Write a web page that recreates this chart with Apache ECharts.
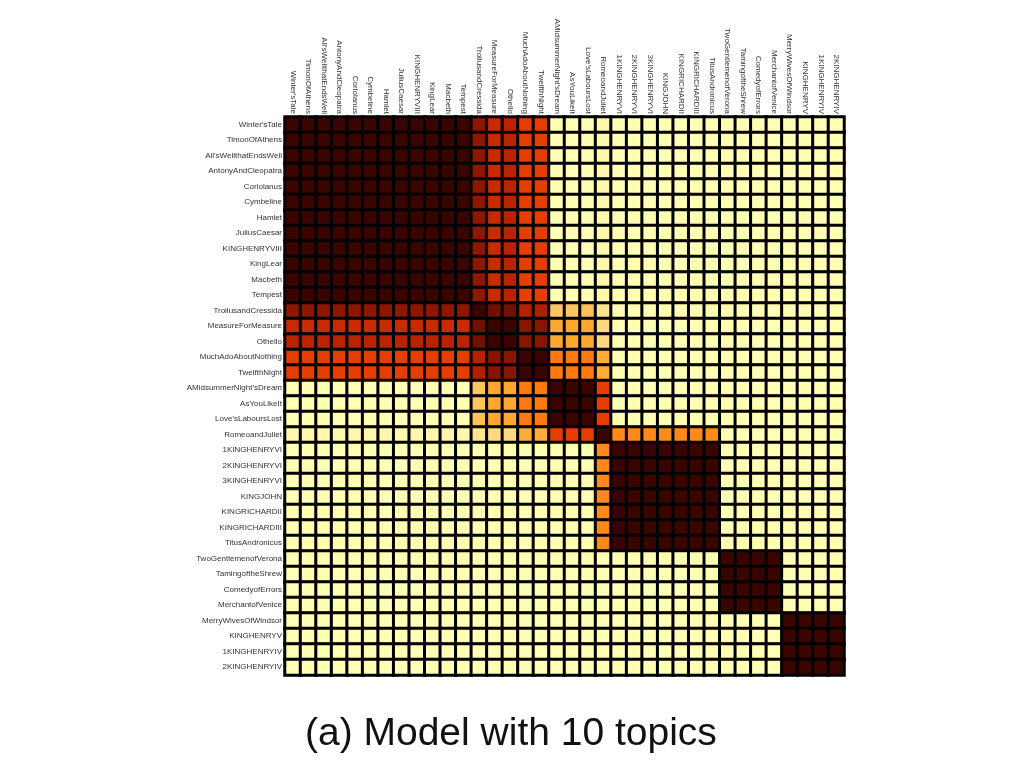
<!DOCTYPE html>
<html>
<head>
    <meta charset="utf-8">
    <title>Model with 10 topics</title>
    <script type="text/javascript" src="https://cdn.jsdelivr.net/npm/echarts@6/dist/echarts.min.js"></script>
    <style>
        html, body { margin: 0; padding: 0; background: #fff; }
    </style>
</head>
<body>
<div id="heat" style="width:1024px;height:768px;"></div>

<script type="text/javascript">
    // plays, same order on both axes
    var plays = ["Winter'sTale", "TimonOfAthens", "All'sWellthatEndsWell", "AntonyAndCleopatra", "Coriolanus",
        "Cymbeline", "Hamlet", "JuliusCaesar", "KINGHENRYVIII", "KingLear", "Macbeth", "Tempest",
        "TroilusandCressida", "MeasureForMeasure", "Othello", "MuchAdoAboutNothing", "TwelfthNight",
        "AMidsummerNight'sDream", "AsYouLikeIt", "Love'sLaboursLost", "RomeoandJuliet",
        "1KINGHENRYVI", "2KINGHENRYVI", "3KINGHENRYVI", "KINGJOHN", "KINGRICHARDII", "KINGRICHARDIII",
        "TitusAndronicus", "TwoGentlemenofVerona", "TamingoftheShrew", "ComedyofErrors",
        "MerchantofVenice", "MerryWivesOfWindsor", "KINGHENRYV", "1KINGHENRYIV", "2KINGHENRYIV"];

    // similarity rows (0 = pale, 1 = dark)
    var rowA =       [1,1,1,1,1,1,1,1,1,1,1,1, .84,.66,.70,.57,.57, 0,0,0, .03, 0,0,0,0,0,0,0, 0,0,0,0, 0,0,0,0];
    var rowTroilus = [.84,.84,.84,.84,.84,.84,.84,.84,.84,.84,.84,.84, 1,.9,.9,.71,.73, .2,.2,.21, .1, 0,0,0,0,0,0,0, 0,0,0,0, 0,0,0,0];
    var rowMeasure = [.66,.66,.66,.66,.66,.66,.66,.66,.66,.66,.66,.66, .9,1,1,.86,.86, .29,.29,.29, .14, 0,0,0,0,0,0,0, 0,0,0,0, 0,0,0,0];
    var rowOthello = [.70,.70,.70,.70,.70,.70,.70,.70,.70,.70,.70,.70, .9,1,1,.86,.86, .29,.29,.29, .14, 0,0,0,0,0,0,0, 0,0,0,0, 0,0,0,0];
    var rowMuchAdo = [.57,.57,.57,.57,.57,.57,.57,.57,.57,.57,.57,.57, .71,.86,.86,1,1, .43,.43,.43, .27, 0,0,0,0,0,0,0, 0,0,0,0, 0,0,0,0];
    var rowTwelfth = [.57,.57,.57,.57,.57,.57,.57,.57,.57,.57,.57,.57, .73,.86,.86,1,1, .43,.43,.43, .27, 0,0,0,0,0,0,0, 0,0,0,0, 0,0,0,0];
    var rowC =       [0,0,0,0,0,0,0,0,0,0,0,0, .2,.29,.29,.43,.43, 1,1,1, .57, 0,0,0,0,0,0,0, 0,0,0,0, 0,0,0,0];
    var rowLoves =   [0,0,0,0,0,0,0,0,0,0,0,0, .21,.29,.29,.43,.43, 1,1,1, .57, 0,0,0,0,0,0,0, 0,0,0,0, 0,0,0,0];
    var rowRomeo =   [.03,.03,.03,.03,.03,.03,.03,.03,.03,.03,.03,.03, .1,.14,.14,.27,.27, .57,.57,.57, 1, .38,.38,.38,.38,.38,.38,.38, 0,0,0,0, 0,0,0,0];
    var rowE =       [0,0,0,0,0,0,0,0,0,0,0,0, 0,0,0,0,0, 0,0,0, .38, 1,1,1,1,1,1,1, 0,0,0,0, 0,0,0,0];
    var rowF =       [0,0,0,0,0,0,0,0,0,0,0,0, 0,0,0,0,0, 0,0,0, 0, 0,0,0,0,0,0,0, 1,1,1,1, 0,0,0,0];
    var rowG =       [0,0,0,0,0,0,0,0,0,0,0,0, 0,0,0,0,0, 0,0,0, 0, 0,0,0,0,0,0,0, 0,0,0,0, 1,1,1,1];

    var matrix = [
        rowA, rowA, rowA, rowA, rowA, rowA, rowA, rowA, rowA, rowA, rowA, rowA,
        rowTroilus, rowMeasure, rowOthello, rowMuchAdo, rowTwelfth,
        rowC, rowC, rowLoves,
        rowRomeo,
        rowE, rowE, rowE, rowE, rowE, rowE, rowE,
        rowF, rowF, rowF, rowF,
        rowG, rowG, rowG, rowG
    ];

    var heatColors = ['#ffffb4', '#ffd880', '#ffa830', '#ff7a10', '#e63c00', '#b52000', '#8a1500', '#3a0500'];

    var cells = [];
    for (var i = 0; i < matrix.length; i++) {
        for (var j = 0; j < matrix[i].length; j++) {
            cells.push([j, i, matrix[i][j]]);
        }
    }

    var myChart = echarts.init(document.getElementById('heat'));

    var labelFont = {
        fontFamily: 'Liberation Sans, Arial, sans-serif',
        fontSize: 8,
        color: '#333'
    };

    var option = {
        animation: false,
        title: {
            text: '(a) Model with 10 topics',
            left: 300,
            top: 710,
            textStyle: {
                fontFamily: 'Liberation Sans, Arial, sans-serif',
                fontSize: 39,
                fontWeight: 'normal',
                color: '#111'
            }
        },
        grid: {
            left: 285,
            top: 117,
            width: 559,
            height: 558
        },
        xAxis: {
            type: 'category',
            position: 'top',
            data: plays,
            axisLine: { show: false },
            axisTick: { show: false },
            splitArea: { show: false },
            axisLabel: Object.assign({ interval: 0, rotate: 90, margin: 3 }, labelFont)
        },
        yAxis: {
            type: 'category',
            inverse: true,
            data: plays,
            axisLine: { show: false },
            axisTick: { show: false },
            axisLabel: Object.assign({ interval: 0, margin: 3 }, labelFont)
        },
        visualMap: {
            show: false,
            min: 0,
            max: 1,
            inRange: { color: heatColors }
        },
        series: [{
            type: 'heatmap',
            data: cells,
            itemStyle: {
                borderColor: '#000',
                borderWidth: 3
            }
        }]
    };
    myChart.setOption(option);
</script>
</body>
</html>
